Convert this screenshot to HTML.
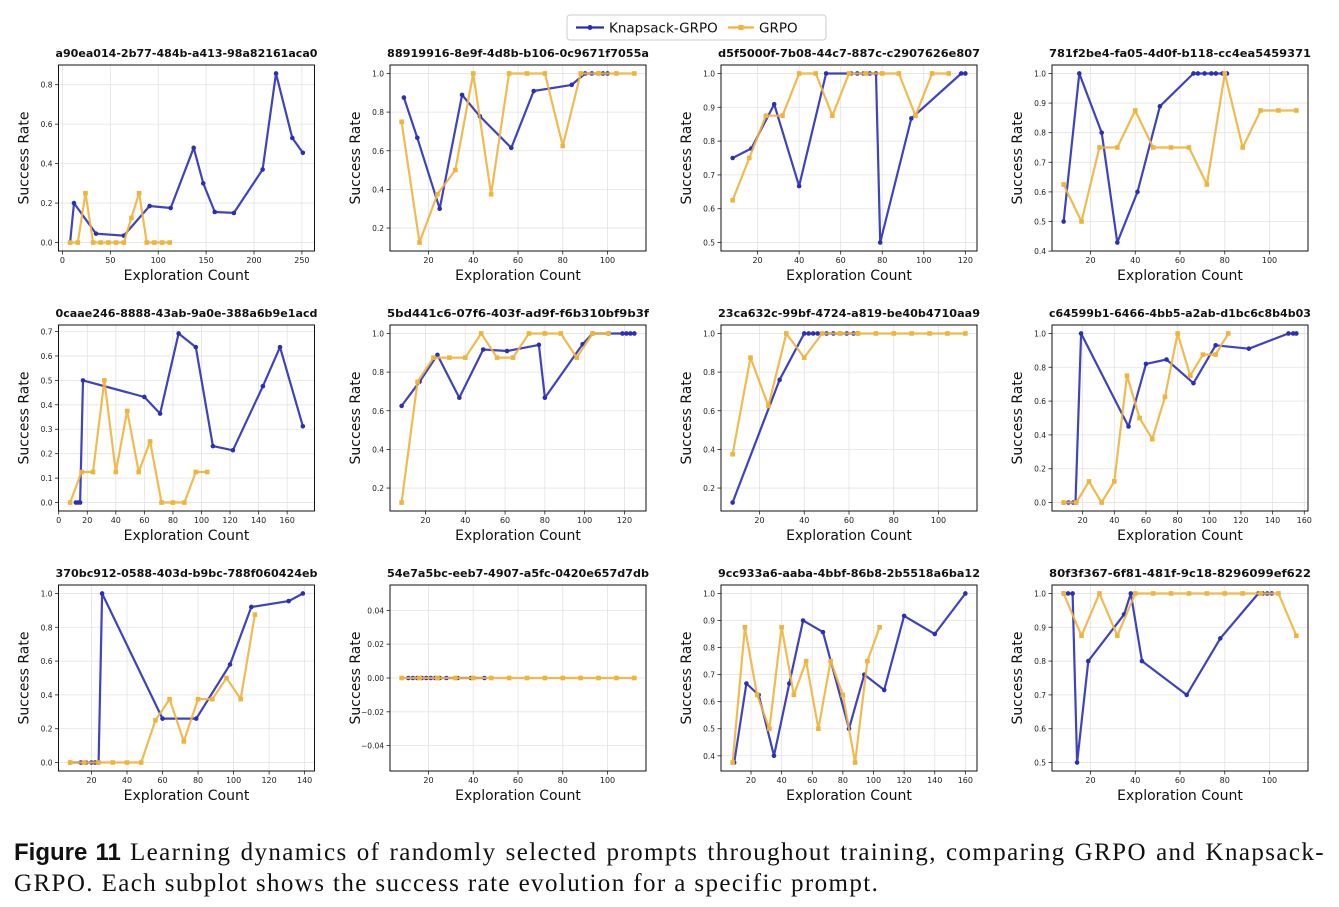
<!DOCTYPE html>
<html><head><meta charset="utf-8"><style>
body{margin:0;background:#fff;width:1339px;height:907px;overflow:hidden;}
svg{display:block;font-family:"DejaVu Sans","Liberation Sans",sans-serif;}
.cap{position:absolute;left:14px;top:837px;font-family:"Liberation Serif",serif;font-size:25px;line-height:31px;color:#111;width:1311px;letter-spacing:1.4px;}
.cap div{white-space:nowrap;}
.cap .l1{text-align:justify;text-align-last:justify;white-space:normal;}
.cap b{font-family:"Liberation Sans",sans-serif;font-weight:bold;font-size:24px;letter-spacing:0;}
</style></head><body>
<svg id="fig" width="1339" height="907">
<g>
<rect x="567" y="15" width="259" height="25" rx="3" fill="#fff" stroke="#ccc"/>
<line x1="576" y1="27.5" x2="604" y2="27.5" stroke="#2a2fb8" stroke-width="2.2"/>
<circle cx="590" cy="27.5" r="2.5" fill="#2a2fb8"/>
<text x="609" y="32.5" font-size="13.5" fill="#111">Knapsack-GRPO</text>
<line x1="728" y1="27.5" x2="754" y2="27.5" stroke="#f0b43c" stroke-width="2.2"/>
<rect x="738.5" y="25" width="5" height="5" fill="#f0b43c"/>
<text x="759" y="32.5" font-size="13.5" fill="#111">GRPO</text>
</g>
</svg>
<div class="cap"><div class="l1"><b>Figure 11</b> Learning dynamics of randomly selected prompts throughout training, comparing GRPO and Knapsack-</div><div>GRPO. Each subplot shows the success rate evolution for a specific prompt.</div></div>
<script>
const titles=["a90ea014-2b77-484b-a413-98a82161aca0","88919916-8e9f-4d8b-b106-0c9671f7055a","d5f5000f-7b08-44c7-887c-c2907626e807","781f2be4-fa05-4d0f-b118-cc4ea5459371","0caae246-8888-43ab-9a0e-388a6b9e1acd","5bd441c6-07f6-403f-ad9f-f6b310bf9b3f","23ca632c-99bf-4724-a819-be40b4710aa9","c64599b1-6466-4bb5-a2ab-d1bc6c8b4b03","370bc912-0588-403d-b9bc-788f060424eb","54e7a5bc-eeb7-4907-a5fc-0420e657d7db","9cc933a6-aaba-4bbf-86b8-2b5518a6ba12","80f3f367-6f81-481f-9c18-8296099ef622"];
const knapX=[
[8,12,35,64,91,113,137,147,159,179,209,223,240,251],
[9,15,25,35,43,57,67,84,90,93,96,98,100],
[8,17,28,40,53,65,68,71,74,77,79,94,118,120],
[8,15,25,32,41,51,66,68,71,74,76,79,81],
[12,13.5,15,17,60,71,84,96,108,122,143,155,171],
[8,17,26,37,49,61,77,80,99,104,112,119,121,123,125],
[8,29,40,42,44,46,50,53,56,59,62,64],
[8,11,14,15.5,19,49,60,73,90,104,125,150,153,155],
[8,14,17,20,22,24,26,60,79,98,110,131,139],
[11,13,15,17,19,21,23,25,28,33,39,45],
[9,17,25,35,45,54,67,84,94,107,120,140,160],
[8,10,12,14,19,35,38,43,63,78,95,97,99,101]];
const knapY=[
[0,0.2,0.045,0.035,0.185,0.175,0.48,0.3,0.155,0.15,0.37,0.857,0.53,0.455],
[0.875,0.667,0.3,0.889,0.778,0.615,0.909,0.941,1,1,1,1,1],
[0.75,0.778,0.909,0.667,1,1,1,1,1,1,0.5,0.867,1,1],
[0.5,1,0.8,0.429,0.6,0.889,1,1,1,1,1,1,1],
[0,0,0,0.5,0.432,0.364,0.692,0.636,0.231,0.214,0.476,0.636,0.312],
[0.625,0.75,0.889,0.667,0.917,0.909,0.941,0.667,0.944,1,1,1,1,1,1],
[0.125,0.76,1,1,1,1,1,1,1,1,1,1],
[0,0,0,0,1,0.45,0.82,0.846,0.706,0.93,0.91,1,1,1],
[0,0,0,0,0,0,1,0.26,0.26,0.58,0.92,0.955,1],
[0,0,0,0,0,0,0,0,0,0,0,0],
[0.375,0.667,0.625,0.4,0.667,0.9,0.857,0.5,0.7,0.643,0.917,0.85,1],
[1,1,1,0.5,0.8,0.938,1,0.8,0.7,0.867,1,1,1,1]];
const grpoY=[
[0,0,0.25,0,0,0,0,0,0.125,0.25,0,0,0,0],
[0.75,0.125,0.375,0.5,1,0.375,1,1,1,0.625,1,1,1,1],
[0.625,0.75,0.875,0.875,1,1,0.875,1,1,1,1,0.875,1,1],
[0.625,0.5,0.75,0.75,0.875,0.75,0.75,0.75,0.625,1,0.75,0.875,0.875,0.875],
[0,0.125,0.125,0.5,0.125,0.375,0.125,0.25,0,0,0,0.125,0.125],
[0.125,0.75,0.875,0.875,0.875,1,0.875,0.875,1,1,1,0.875,1,1],
[0.375,0.875,0.625,1,0.875,1,1,1,1,1,1,1,1,1],
[0,0,0.125,0,0.125,0.75,0.5,0.375,0.625,1,0.75,0.875,0.875,1],
[0,0,0,0,0,0,0.25,0.375,0.125,0.375,0.375,0.5,0.375,0.875],
[0,0,0,0,0,0,0,0,0,0,0,0,0,0],
[0.375,0.875,0.625,0.5,0.875,0.625,0.75,0.5,0.75,0.625,0.375,0.75,0.875],
[1,0.875,1,0.875,1,1,1,1,1,1,1,1,1,0.875]];
const xTicks=[[0,50,100,150,200,250],[20,40,60,80,100],[20,40,60,80,100,120],[20,40,60,80,100],[0,20,40,60,80,100,120,140,160],[20,40,60,80,100,120],[20,40,60,80,100],[20,40,60,80,100,120,140,160],[20,40,60,80,100,120,140],[20,40,60,80,100],[20,40,60,80,100,120,140,160],[20,40,60,80,100]];
const yTicks=[[0,0.2,0.4,0.6,0.8],[0.2,0.4,0.6,0.8,1],[0.5,0.6,0.7,0.8,0.9,1],[0.4,0.5,0.6,0.7,0.8,0.9,1],[0,0.1,0.2,0.3,0.4,0.5,0.6,0.7],[0.2,0.4,0.6,0.8,1],[0.2,0.4,0.6,0.8,1],[0,0.2,0.4,0.6,0.8,1],[0,0.2,0.4,0.6,0.8,1],[-0.04,-0.02,0,0.02,0.04],[0.4,0.5,0.6,0.7,0.8,0.9,1],[0.5,0.6,0.7,0.8,0.9,1]];
const yDec=[1,1,1,1,1,1,1,1,1,2,1,1];

const NS="http://www.w3.org/2000/svg";
const svg=document.getElementById('fig');
function mk(tag,attrs,parent){const e=document.createElementNS(NS,tag);for(const k in attrs)e.setAttribute(k,attrs[k]);parent.appendChild(e);return e;}
const colL=[58.5,390,721,1052], axW=256, rowT=[65,325,585], axH=186;
const BLUE="#2a2fb8", ORG="#f0b43c";
for(let i=0;i<12;i++){
  const L=colL[i%4], T=rowT[Math.floor(i/4)];
  const g=mk('g',{},svg);
  
  
  const gx=grpoY[i].map((_,k)=>8+8*k);
  const allX=knapX[i].concat(gx), allY=knapY[i].concat(grpoY[i]);
  let x0=Math.min(...allX),x1=Math.max(...allX);const dx=(x1-x0)*0.05;x0-=dx;x1+=dx;
  let y0=Math.min(...allY),y1=Math.max(...allY);
  if(y1-y0<1e-9){y0-=0.055;y1+=0.055;}else{const dy=(y1-y0)*0.05;y0-=dy;y1+=dy;}
  const sx=v=>L+(v-x0)/(x1-x0)*axW, sy=v=>T+axH-(v-y0)/(y1-y0)*axH;
  xTicks[i].forEach(t=>{const X=sx(t);
    mk('line',{x1:X,y1:T,x2:X,y2:T+axH,stroke:'#e3e3e3','stroke-width':0.8},g);
    mk('line',{x1:X,y1:T+axH,x2:X,y2:T+axH+3.5,stroke:'#222','stroke-width':0.8},g);
    const tx=mk('text',{x:X,y:T+axH+12,'font-size':8,'text-anchor':'middle',fill:'#222'},g);tx.textContent=t;
    
    
  });
  yTicks[i].forEach(t=>{const Y=sy(t);
    mk('line',{x1:L,y1:Y,x2:L+axW,y2:Y,stroke:'#e3e3e3','stroke-width':0.8},g);
    mk('line',{x1:L-3.5,y1:Y,x2:L,y2:Y,stroke:'#222','stroke-width':0.8},g);
    const ty=mk('text',{x:L-6,y:Y+3,'font-size':7.5,'text-anchor':'end',fill:'#222'},g);
    ty.textContent=t.toFixed(yDec[i]).replace('-','\u2212');
    
    
  });
  mk('rect',{x:L,y:T,width:axW,height:axH,fill:'none',stroke:'#111','stroke-width':1},g);
  const tt=mk('text',{x:L+axW/2,y:T-8,'font-size':11,'font-weight':'bold','text-anchor':'middle',fill:'#111',textLength:262,lengthAdjust:'spacingAndGlyphs'},g);tt.textContent=titles[i];
  
  
  const xl=mk('text',{x:L+axW/2,y:T+axH+29,'font-size':14,'text-anchor':'middle',fill:'#111'},g);xl.textContent='Exploration Count';
  
  
  const yx=L-30, yy=T+axH/2;
  const yl=mk('text',{x:yx,y:yy,'font-size':14,'text-anchor':'middle',fill:'#111',transform:`rotate(-90 ${yx} ${yy})`},g);yl.textContent='Success Rate';
  
  
  const kp=knapX[i].map((x,k)=>sx(x).toFixed(1)+','+sy(knapY[i][k]).toFixed(1)).join(' ');
  const kl=mk('polyline',{points:kp,fill:'none',stroke:BLUE,'stroke-width':2.2,opacity:0.9,'stroke-linejoin':'round'},g);
  
  
  knapX[i].forEach((x,k)=>{const c=mk('circle',{cx:sx(x),cy:sy(knapY[i][k]),r:2.3,fill:BLUE},g);
    
    });
  const gp=gx.map((x,k)=>sx(x).toFixed(1)+','+sy(grpoY[i][k]).toFixed(1)).join(' ');
  const gl=mk('polyline',{points:gp,fill:'none',stroke:ORG,'stroke-width':2.2,opacity:0.9,'stroke-linejoin':'round'},g);
  
  
  gx.forEach((x,k)=>{const r=mk('rect',{x:sx(x)-2.3,y:sy(grpoY[i][k])-2.3,width:4.6,height:4.6,fill:ORG},g);
    
    });
}
</script>
</body></html>
